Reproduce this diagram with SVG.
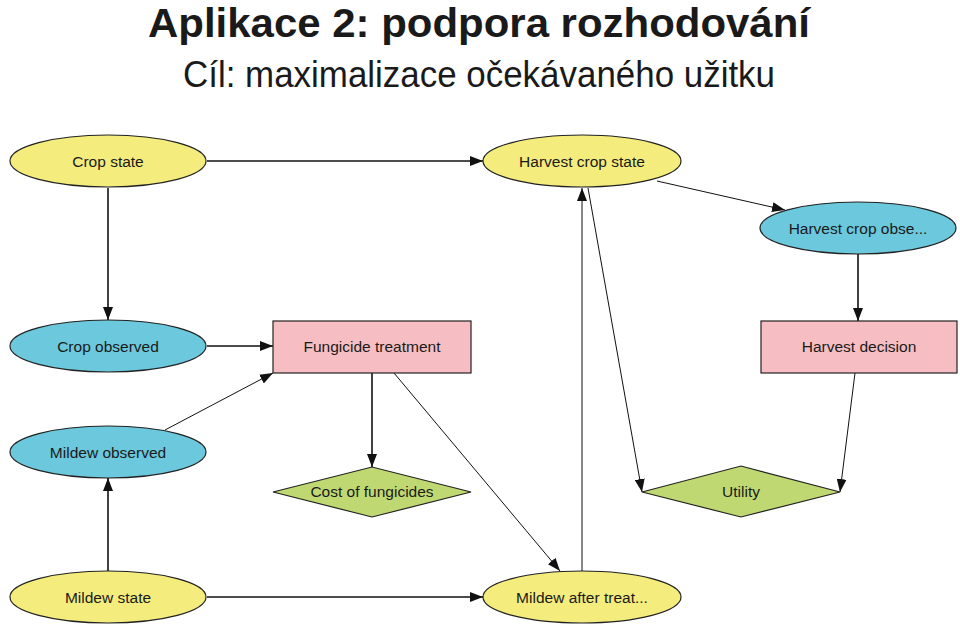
<svg xmlns="http://www.w3.org/2000/svg" width="960" height="633" viewBox="0 0 960 633">
<defs>
<style>
.title{font-family:"Liberation Sans",Arial,sans-serif;font-weight:bold;font-size:40px;fill:#1a1a1a}
.sub{font-family:"Liberation Sans",Arial,sans-serif;font-size:36px;fill:#1a1a1a}
.lbl{font-family:"Liberation Sans",Arial,sans-serif;font-size:15.5px;fill:#1a1a1a;text-anchor:middle;dominant-baseline:central}
.y{fill:#F4EC7C;stroke:#222;stroke-width:1.2}
.b{fill:#6CC8DC;stroke:#222;stroke-width:1.2}
.p{fill:#F6BEC2;stroke:#222;stroke-width:1.2}
.g{fill:#BFD872;stroke:#222;stroke-width:1.2}
.e{stroke:#111;fill:none;marker-end:url(#ah)}
.thick{stroke-width:1.6}
.thin{stroke-width:1}
</style>
<marker id="ah" viewBox="0 0 13 10" refX="13" refY="5" markerWidth="13" markerHeight="10" markerUnits="userSpaceOnUse" orient="auto">
<path d="M0,0 L13,5 L0,10 z" fill="#111"/>
</marker>
</defs>
<rect width="960" height="633" fill="#fff"/>
<text class="title" x="148" y="37" textLength="662" lengthAdjust="spacingAndGlyphs">Aplikace 2: podpora rozhodování</text>
<text class="sub" x="183" y="87" textLength="592" lengthAdjust="spacingAndGlyphs">Cíl: maximalizace očekávaného užitku</text>

<g id="connectors">
<line class="e thick" x1="207" y1="161" x2="483" y2="161"/>
<line class="e thick" x1="108" y1="188" x2="108" y2="320"/>
<line class="e thick" x1="207" y1="346" x2="273" y2="346"/>
<line class="e thin" x1="165" y1="430" x2="273" y2="373"/>
<line class="e thick" x1="372" y1="373" x2="372" y2="467"/>
<line class="e thin" x1="394" y1="373" x2="560" y2="571"/>
<line class="e thick" x1="108" y1="571" x2="108" y2="478"/>
<line class="e thick" x1="207" y1="597" x2="483" y2="597"/>
<line class="e thin" x1="582" y1="571" x2="582" y2="188"/>
<line class="e thin" x1="588" y1="188" x2="642" y2="492"/>
<line class="e thin" x1="657" y1="181" x2="785" y2="210"/>
<line class="e thick" x1="858" y1="254" x2="858" y2="321"/>
<line class="e thin" x1="855" y1="373" x2="840" y2="492"/>
</g>

<g id="crop-state"><ellipse class="y" cx="108" cy="161" rx="98" ry="26"/><text class="lbl" x="108" y="161">Crop state</text></g>
<g id="harvest-crop-state"><ellipse class="y" cx="582" cy="161" rx="99" ry="26"/><text class="lbl" x="582" y="161">Harvest crop state</text></g>
<g id="harvest-crop-observed"><ellipse class="b" cx="858" cy="228" rx="98" ry="26"/><text class="lbl" x="858" y="228">Harvest crop obse...</text></g>
<g id="crop-observed"><ellipse class="b" cx="108" cy="346" rx="98" ry="26"/><text class="lbl" x="108" y="346">Crop observed</text></g>
<g id="fungicide-treatment"><rect class="p" x="273" y="321" width="198" height="52"/><text class="lbl" x="372" y="346">Fungicide treatment</text></g>
<g id="harvest-decision"><rect class="p" x="761" y="321" width="196" height="52"/><text class="lbl" x="859" y="346">Harvest decision</text></g>
<g id="mildew-observed"><ellipse class="b" cx="108" cy="452" rx="98" ry="26"/><text class="lbl" x="108" y="452">Mildew observed</text></g>
<g id="cost-of-fungicides"><polygon class="g" points="273,492 372,467 471,492 372,517"/><text class="lbl" x="372" y="491">Cost of fungicides</text></g>
<g id="utility"><polygon class="g" points="642,492 741,466 840,492 741,517"/><text class="lbl" x="741" y="491">Utility</text></g>
<g id="mildew-state"><ellipse class="y" cx="108" cy="597" rx="98" ry="26"/><text class="lbl" x="108" y="597">Mildew state</text></g>
<g id="mildew-after-treatment"><ellipse class="y" cx="582" cy="597" rx="99" ry="26"/><text class="lbl" x="582" y="597">Mildew after treat...</text></g>
</svg>
